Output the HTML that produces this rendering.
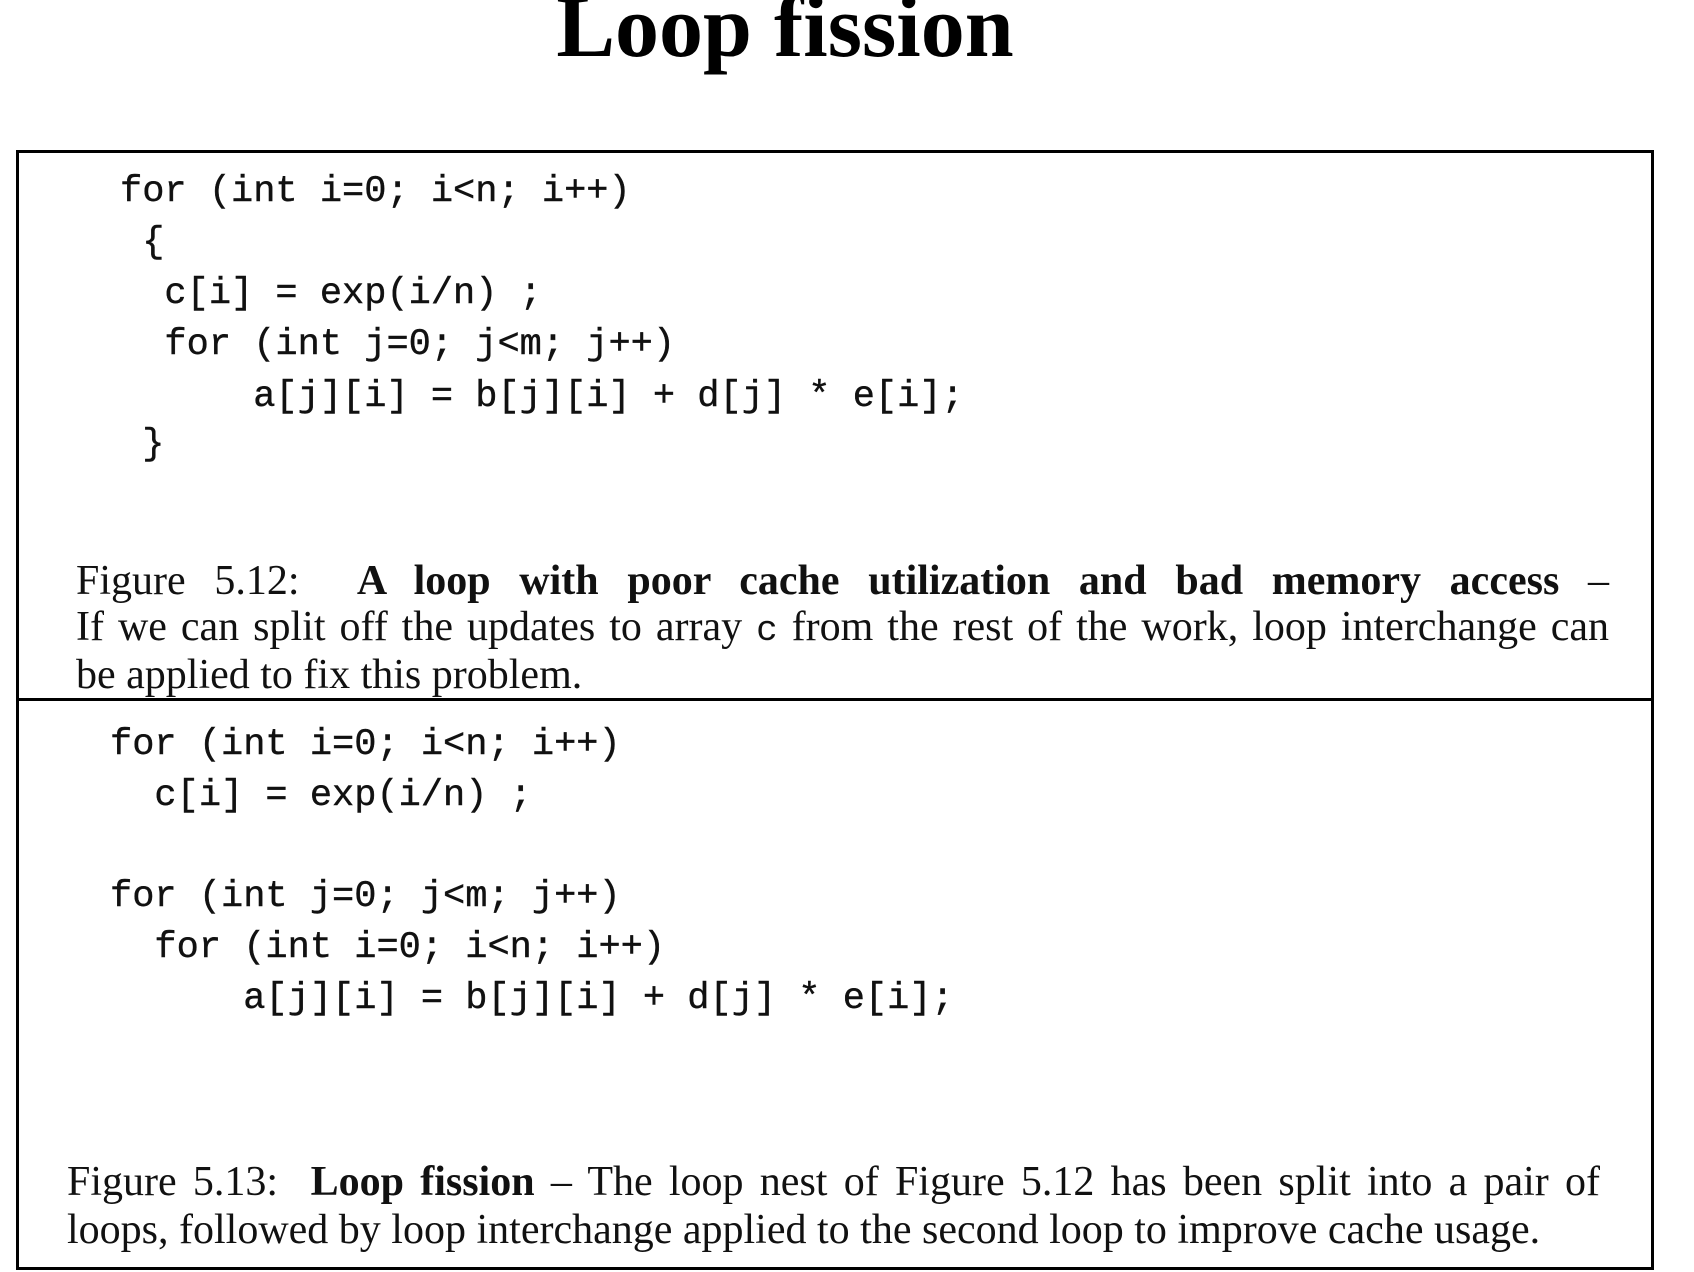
<!DOCTYPE html>
<html><head><meta charset="utf-8"><style>
body{margin:0;width:1694px;height:1272px;background:#fff;position:relative;overflow:hidden}
.t{position:absolute;left:0;width:1570px;text-align:center;top:-22px;font:bold 88px/100px "Liberation Serif",serif;color:#000}
.box{position:absolute;left:16px;top:150px;width:1632px;height:1114px;border:3px solid #000}
.div{position:absolute;left:16px;top:698px;width:1638px;height:3px;background:#000}
.c{position:absolute;font:37px/50px "Liberation Mono",monospace;white-space:pre;color:#111;-webkit-text-stroke:0.4px #111}
.p{position:absolute;font:42px/50px "Liberation Serif",serif;color:#111;white-space:nowrap}
.j{text-align:justify;text-align-last:justify;white-space:normal}
</style></head><body>
<div class="t">Loop fission</div>
<div class="box"></div>
<div class="div"></div>
<div class="c" style="left:120px;top:167px">for (int i=0; i&lt;n; i++)</div>
<div class="c" style="left:120px;top:218px"> {</div>
<div class="c" style="left:120px;top:269px">  c[i] = exp(i/n) ;</div>
<div class="c" style="left:120px;top:320px">  for (int j=0; j&lt;m; j++)</div>
<div class="c" style="left:120px;top:372px">      a[j][i] = b[j][i] + d[j] * e[i];</div>
<div class="c" style="left:120px;top:420px"> }</div>
<div class="p j" style="left:76px;top:556px;width:1533px">Figure 5.12: &nbsp;<b>A loop with poor cache utilization and bad memory access</b> –</div>
<div class="p j" style="left:76px;top:602px;width:1533px">If we can split off the updates to array <span style="font-family:'Liberation Mono',monospace;font-size:36px">c</span> from the rest of the work, loop interchange can</div>
<div class="p" style="left:76px;top:650px">be applied to fix this problem.</div>
<div class="c" style="left:110px;top:720px">for (int i=0; i&lt;n; i++)</div>
<div class="c" style="left:110px;top:771px">  c[i] = exp(i/n) ;</div>
<div class="c" style="left:110px;top:872px">for (int j=0; j&lt;m; j++)</div>
<div class="c" style="left:110px;top:923px">  for (int i=0; i&lt;n; i++)</div>
<div class="c" style="left:110px;top:974px">      a[j][i] = b[j][i] + d[j] * e[i];</div>
<div class="p j" style="left:67px;top:1157px;width:1533px">Figure 5.13: &nbsp;<b>Loop fission</b> – The loop nest of Figure 5.12 has been split into a pair of</div>
<div class="p" style="left:67px;top:1205px">loops, followed by loop interchange applied to the second loop to improve cache usage.</div>
</body></html>
